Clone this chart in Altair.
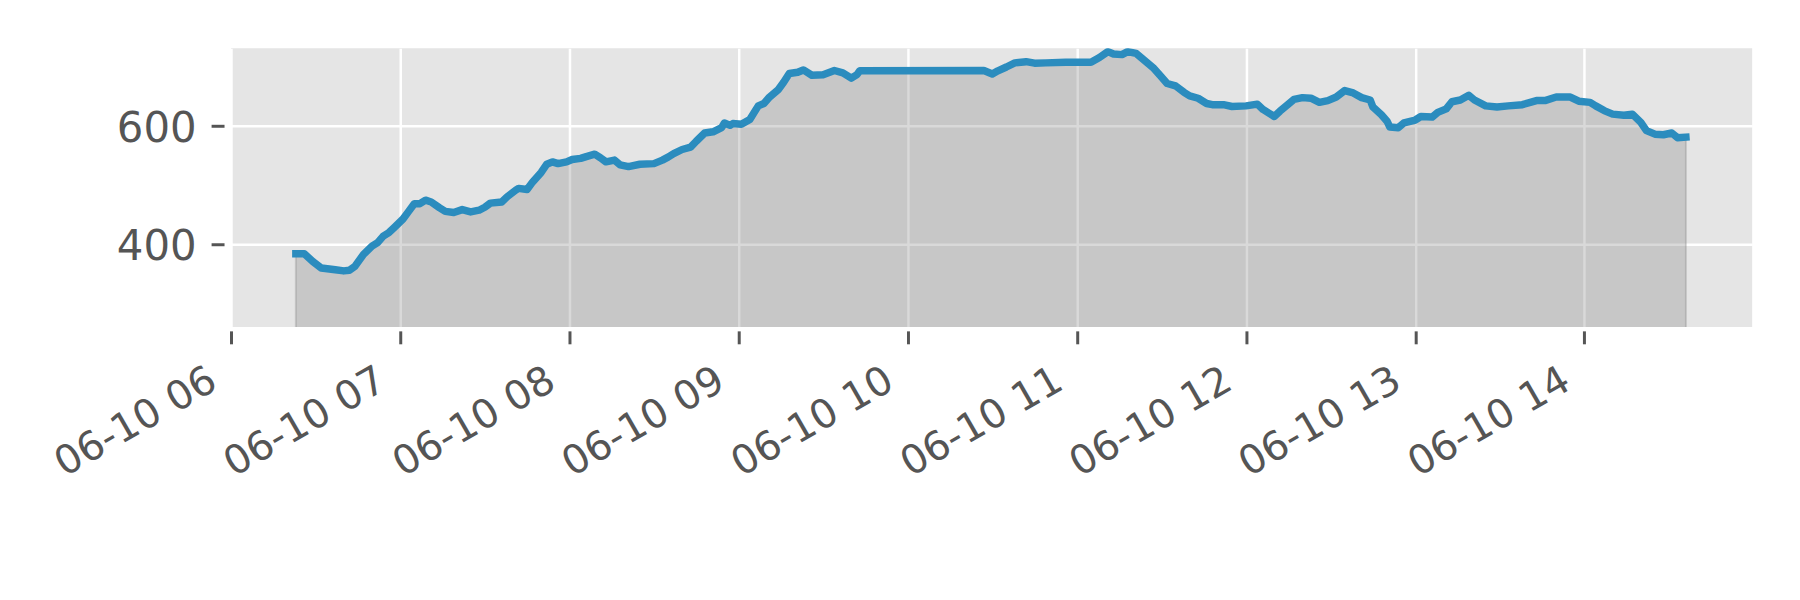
import altair as alt
import pandas as pd

times = [
    "06:23", "06:26", "06:29", "06:32", "06:37", "06:40", "06:42", "06:44", "06:47", "06:50",
    "06:52", "06:54", "06:56", "06:58", "07:01", "07:03", "07:05", "07:07", "07:09", "07:11",
    "07:14", "07:16", "07:19", "07:22", "07:25", "07:28", "07:30", "07:32", "07:36", "07:38",
    "07:41", "07:42", "07:45", "07:47", "07:50", "07:52", "07:54", "07:56", "07:59", "08:01",
    "08:04", "08:06", "08:09", "08:11", "08:13", "08:16", "08:18", "08:21", "08:25", "08:30",
    "08:33", "08:35", "08:37", "08:40", "08:43", "08:45", "08:48", "08:51", "08:54", "08:55",
    "08:57", "08:58", "09:01", "09:04", "09:07", "09:09", "09:11", "09:14", "09:16", "09:18",
    "09:21", "09:23", "09:26", "09:30", "09:34", "09:37", "09:40", "09:42", "09:43", "10:27",
    "10:30", "10:32", "10:35", "10:38", "10:42", "10:45", "10:49", "10:56", "11:01", "11:05",
    "11:08", "11:11", "11:13", "11:16", "11:18", "11:21", "11:23", "11:27", "11:30", "11:32",
    "11:35", "11:38", "11:40", "11:43", "11:46", "11:48", "11:52", "11:55", "12:00", "12:04",
    "12:06", "12:10", "12:12", "12:15", "12:17", "12:20", "12:23", "12:26", "12:29", "12:32",
    "12:35", "12:38", "12:41", "12:44", "12:45", "12:48", "12:50", "12:51", "12:54", "12:56",
    "13:00", "13:02", "13:06", "13:08", "13:11", "13:13", "13:16", "13:19", "13:21", "13:25",
    "13:29", "13:33", "13:38", "13:43", "13:46", "13:50", "13:55", "13:58", "14:02", "14:04",
    "14:07", "14:10", "14:14", "14:17", "14:20", "14:22", "14:25", "14:28", "14:31", "14:33",
    "14:36",
]
values = [
    383, 383, 370, 359, 356, 354, 355, 362, 382, 396,
    402, 413, 419, 428, 442, 455, 468, 468, 474, 471,
    461, 455, 453, 458, 454, 457, 462, 469, 471, 480,
    491, 494, 492, 505, 521, 535, 539, 536, 539, 543,
    545, 548, 552, 546, 539, 542, 534, 531, 535, 536,
    542, 547, 553, 560, 564, 574, 588, 590, 597, 605,
    601, 604, 603, 611, 634, 638, 649, 661, 674, 689,
    691, 695, 686, 687, 694, 690, 681, 687, 693.5, 694,
    688, 693.5, 700, 707, 709, 706.5, 707, 708, 708, 708,
    716, 726, 722, 721, 726, 723, 715, 699, 683, 672,
    668, 657, 651, 647, 638, 636, 636, 633, 634, 637,
    628, 616, 625, 637, 645, 648, 647, 640, 643, 649,
    660, 656, 648, 644, 632, 619, 608, 598, 597, 605,
    610, 616, 615, 623, 629, 641, 644, 652, 644, 634,
    632, 634, 636, 643, 643, 649, 649, 642, 640, 634,
    626, 620, 618, 620, 606, 592, 586, 585, 588, 580,
    581,
]
day = "2023-06-10"
tick_hours = [6, 7, 8, 9, 10, 11, 12, 13, 14]
y_ticks = [400, 600]

df = pd.DataFrame({"t": [f"{day}T{t}:00" for t in times], "v": values})

font = "DejaVu Sans"
label_color = "#555555"

x_enc = alt.X(
    "t:T",
    scale=alt.Scale(domain=[
        alt.DateTime(year=2023, month=6, date=10, hours=6, minutes=0),
        alt.DateTime(year=2023, month=6, date=10, hours=14, minutes=59, seconds=30),
    ]),
    axis=alt.Axis(
        values=[alt.DateTime(year=2023, month=6, date=10, hours=h) for h in tick_hours],
        format="%m-%d %H",
        labelAngle=-30,
        labelAlign="right",
        labelBaseline="top",
        labelFont=font,
        labelFontSize=40,
        labelColor=label_color,
        labelPadding=16,
        labelOffset=-28,
        labelLimit=0,
        labelFlush=False,
        labelOverlap=False,
        labelBound=False,
        tickColor=label_color,
        tickSize=13,
        tickWidth=3,
        offset=4,
        domain=False,
        grid=True,
        gridColor="white",
        gridWidth=2.5,
        title=None,
    ),
)
y_enc = alt.Y(
    "v:Q",
    scale=alt.Scale(domain=[259, 732], zero=False, nice=False),
    axis=alt.Axis(
        values=y_ticks,
        labelFont=font,
        labelFontSize=42,
        labelColor=label_color,
        labelPadding=15,
        labelOffset=3,
        tickColor=label_color,
        tickSize=13,
        tickWidth=3,
        offset=7,
        domain=False,
        grid=True,
        gridColor="white",
        gridWidth=2.5,
        title=None,
    ),
)

base = alt.Chart(df)
area = base.mark_area(
    clip=True, color="#808080", fillOpacity=0.3, stroke="#808080", strokeOpacity=0.3, strokeWidth=2
).encode(x=x_enc, y=y_enc, y2=alt.datum(0))
line = base.mark_line(
    clip=True, color="#2B8CBE", strokeWidth=7.5, strokeJoin="round", strokeCap="square"
).encode(x=x_enc, y=y_enc)

chart = (
    alt.layer(area, line)
    .properties(
        width=1528,
        height=280,
        padding={"left": 224, "top": 39, "right": 40, "bottom": 265},
        autosize=alt.AutoSizeParams(type="none"),
        background="white",
    )
    .configure_view(fill="#E5E5E5", strokeWidth=0)
)
chart.save("out.html", embed_options={"renderer": "svg", "actions": False})
